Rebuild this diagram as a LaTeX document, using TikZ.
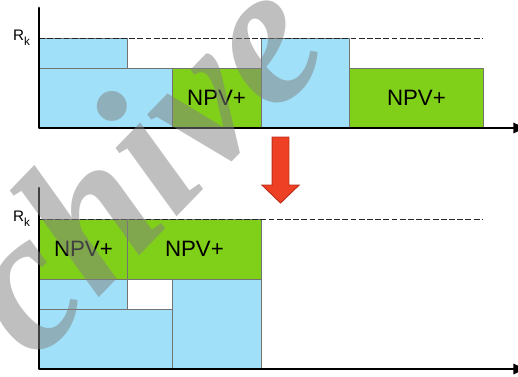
\documentclass[tikz,border=0pt]{standalone}
\usepackage{fontspec}
\setmainfont{Liberation Sans}
\newfontfamily\markfont{Liberation Serif}
\usetikzlibrary{arrows.meta}

\definecolor{blockblue}{RGB}{160,224,248}
\definecolor{blockgreen}{RGB}{128,208,26}
\definecolor{arrowred}{RGB}{238,64,36}
\definecolor{arrowedge}{RGB}{188,46,26}

\tikzset{
  blk/.style={draw=black!55, line width=0.6pt},
  axis/.style={line width=2.5pt, -{Triangle[length=10pt,width=8.5pt]}},
  limit/.style={black!85, line width=0.8pt, dash pattern=on 5pt off 2pt, line cap=butt},
  npv/.style={font=\fontsize{19}{21}\selectfont, inner sep=0pt},
  rk/.style={font=\fontsize{13}{15}\selectfont, anchor=base east, xshift=-7.5pt, yshift=-2.5pt, inner sep=0pt},
}
\newcommand{\Rk}{R\raisebox{-4pt}{\fontsize{10}{10}\selectfont k}}

\begin{document}
\begin{tikzpicture}[x=1.332cm, y=0.9cm, line join=round, line cap=round]
	\useasboundingbox (-0.878,-8.267) rectangle (10.788,4.267);
	% upper chart: blocks as they come
	\foreach \xa/\ya/\xb/\yb/\col in {0/2/2/3/blockblue, 0/0/3/2/blockblue, 3/0/5/2/blockgreen, 5/0/7/3/blockblue, 7/0/10/2/blockgreen}
	\draw[blk, fill=\col] (\xa,\ya) rectangle (\xb,\yb);
	\node[npv] (npv-a) at (4,1) {NPV+};
	\node[npv] (npv-b) at (8.5,1) {NPV+};
	% lower chart: same blocks stacked under R_k
	\begin{scope}[shift={(0,-8.033)}]
		\foreach \xa/\ya/\xb/\yb/\col in {0/3/2/5/blockgreen, 2/3/5/5/blockgreen, 0/2/2/3/blockblue, 0/0/3/2/blockblue, 3/0/5/3/blockblue}
		\draw[blk, fill=\col] (\xa,\ya) rectangle (\xb,\yb);
		\node[npv] (npv-c) at (1,4) {NPV+};
		\node[npv] (npv-d) at (3.5,4) {NPV+};
	\end{scope}
	% axes and R_k level for both charts
	\foreach \oy/\ty/\ry/\nm in {0/4/3/top, -8.033/-2.003/-3.033/bot} {
		\draw[limit] (0,\ry) -- (10,\ry);
		\draw[axis] (0,\ty) -- (0,\oy) -- (10.95,\oy);
		\node[rk] (rk-\nm) at (0,\ry) {\Rk};
	}
	% red arrow between the charts
	\filldraw[fill=arrowred, draw=arrowedge, line width=0.8pt, line join=miter]
	(5.25,-0.3) -- (5.63,-0.3) -- (5.63,-1.9) -- (5.86,-1.9) -- (5.44,-2.5)
	-- (5.02,-1.9) -- (5.25,-1.9) -- cycle;
	% watermark
	\node[text=gray, text opacity=0.5, rotate=46, anchor=base west, inner sep=0pt,
	font=\markfont\bfseries\itshape\fontsize{170}{170}\selectfont] (mark) at (-0.09,-7.87) {chive};
\end{tikzpicture}
\end{document}
